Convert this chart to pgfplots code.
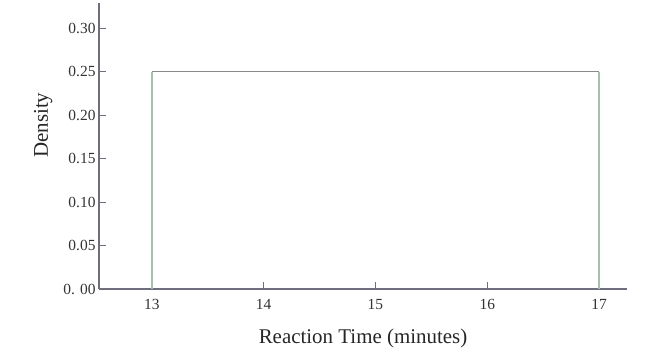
\documentclass[border=0pt]{standalone}
\usepackage{pgfplots}
\pgfplotsset{compat=1.18}
\usepackage{fontspec}
\setmainfont{Liberation Serif}
\usetikzlibrary{calc}
\definecolor{axcol}{HTML}{6E6E7E}
\definecolor{topcol}{HTML}{8A8A8A}
\definecolor{sidecol}{HTML}{A6BFAF}
\begin{document}
\begin{tikzpicture}
\begin{axis}[
  scale only axis,
  width=528bp, height=286bp,
  xmin=12.527, xmax=17.25,
  ymin=0, ymax=0.329,
  axis x line=bottom, axis y line=left,
  axis line style={axcol, line width=1.1pt, -},
  xtick={13,14,15,16,17},
  ytick={0,0.05,0.10,0.15,0.20,0.25,0.30},
  yticklabels={0. 00,0.05,0.10,0.15,0.20,0.25,0.30},
  xticklabels={13,14,15,16,17},
  tick align=inside,
  major tick length=7bp,
  tick style={axcol, line width=1pt},
  ticklabel style={font=\fontsize{15.5}{17}\selectfont, text=black!80},
  xticklabel style={yshift=-7bp},
  xlabel={Reaction Time (minutes)},
  ylabel={Density},
  label style={font=\fontsize{21}{23}\selectfont, text=black!85},
  xlabel style={yshift=-12bp},
  ylabel style={at={(ticklabel cs:0.573)}, yshift=4bp},
  clip=false,
]
\addplot[sidecol, line width=1.3pt] coordinates {(13,0) (13,0.25)};
\addplot[sidecol, line width=1.3pt] coordinates {(17,0) (17,0.25)};
\addplot[topcol, line width=1.3pt] coordinates {(13,0.25) (17,0.25)};
\end{axis}
\path[use as bounding box] ($(current axis.south west)+(-99bp,-70bp)$) rectangle ($(current axis.north east)+(23bp,3bp)$);
\end{tikzpicture}
\end{document}
